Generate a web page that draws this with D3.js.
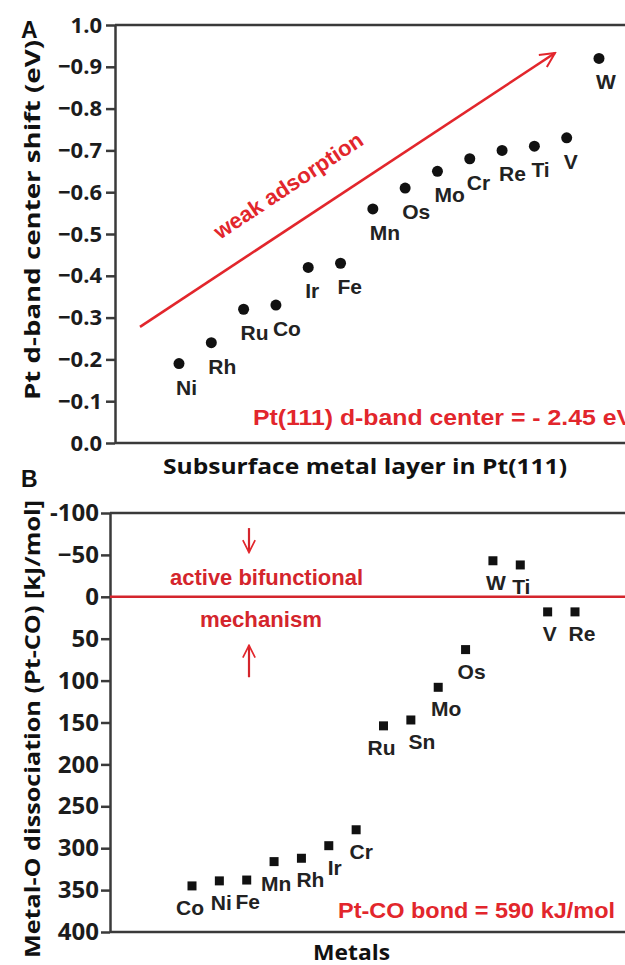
<!DOCTYPE html>
<html>
<head>
<meta charset="utf-8">
<script src="https://cdn.jsdelivr.net/npm/d3@7"></script>
<style>
  body { margin: 0; background: #fff; }
  svg { display: block; }
  .tick text { font-family: "Open Sans", sans-serif; font-weight: 700; fill: #1c1c1c; }
</style>
</head>
<body>
<svg id="chart" width="625" height="965"></svg>
<script>
// panel A - subsurface metal in Pt(111)
const metalsA = ['Ni', 'Rh', 'Ru', 'Co', 'Ir', 'Fe', 'Mn', 'Os', 'Mo', 'Cr', 'Re', 'Ti', 'V', 'W'];
const shiftA = [-0.19, -0.24, -0.32, -0.33, -0.42, -0.43, -0.56, -0.61, -0.65, -0.68, -0.70, -0.71, -0.73, -0.92];
const ticksA = [0, -0.1, -0.2, -0.3, -0.4, -0.5, -0.6, -0.7, -0.8, -0.9, -1.0];
const tickLabelsA = ['0.0', '\u22120.1', '\u22120.2', '\u22120.3', '\u22120.4', '\u22120.5', '\u22120.6', '\u22120.7', '\u22120.8', '\u22120.9', '1.0'];

// panel B - metal-O dissociation
const metalsB = ['Co', 'Ni', 'Fe', 'Mn', 'Rh', 'Ir', 'Cr', 'Ru', 'Sn', 'Mo', 'Os', 'W', 'Ti', 'V', 'Re'];
const dissocB = [345, 339, 338, 316, 312, 297, 278, 154, 147, 108, 63, -43, -38, 18, 18];
const ticksB = [-100, -50, 0, 50, 100, 150, 200, 250, 300, 350, 400];
const tickLabelsB = ['-100', '\u221250', '0', '50', '100', '150', '200', '250', '300', '350', '400'];

// label nudges (layout only) for panel B
const labelDxB = [-2, 2, 1, 2, 9, 6, 5, -2, 11, 8, 6, 3, 1, 2, 7];

const svg = d3.select('#chart');
const red = '#e2262c';
const axisCol = '#3a3a3a';
const W = 625;
const arial = 'Liberation Sans, Arial, sans-serif';
const open = 'Open Sans, sans-serif';

svg.append('defs').append('marker')
  .attr('id', 'vhead')
  .attr('viewBox', '0 0 10 10')
  .attr('refX', 9).attr('refY', 5)
  .attr('markerWidth', 7).attr('markerHeight', 7)
  .attr('markerUnits', 'strokeWidth')
  .attr('orient', 'auto')
  .append('path')
  .attr('d', 'M1,1 L9,5 L1,9')
  .attr('fill', 'none')
  .attr('stroke', red)
  .attr('stroke-width', 1.1);

function stretched(sel, len) {
  return sel.attr('textLength', len).attr('lengthAdjust', 'spacingAndGlyphs');
}

// ---------- panel A ----------
const axA = 115;
const yA = d3.scaleLinear().domain([0, -1.0]).range([443, 25]);
const xA = d3.scalePoint().domain(metalsA).range([179, 599]);

const gA = svg.append('g');

gA.append('g')
  .attr('transform', `translate(${axA},0)`)
  .call(d3.axisLeft(yA).tickValues(ticksA).tickFormat((d, i) => tickLabelsA[i]).tickSize(9).tickSizeOuter(0).tickPadding(4))
  .call(g => g.selectAll('.tick text').style('font-size', '22px'))
  .call(g => g.selectAll('line,path').attr('stroke', axisCol).attr('stroke-width', 2.5));

[0, -1.0].forEach(v => {
  gA.append('line')
    .attr('x1', axA).attr('x2', W)
    .attr('y1', yA(v)).attr('y2', yA(v))
    .attr('stroke', axisCol).attr('stroke-width', 2.5);
});

// weak adsorption arrow
gA.append('line')
  .attr('x1', 140).attr('y1', yA(-0.278))
  .attr('x2', 555).attr('y2', yA(-0.933))
  .attr('stroke', red).attr('stroke-width', 2.6)
  .attr('marker-end', 'url(#vhead)');

stretched(gA.append('text')
  .attr('transform', 'translate(220,240) rotate(-33.6)')
  .attr('font-family', arial)
  .attr('font-weight', 700).attr('font-size', 22)
  .attr('fill', red)
  .text('weak adsorption'), 174);

gA.selectAll('circle.pt')
  .data(metalsA)
  .join('circle')
  .attr('class', 'pt')
  .attr('cx', d => xA(d))
  .attr('cy', (d, i) => yA(shiftA[i]))
  .attr('r', 5.5)
  .attr('fill', '#111');

gA.selectAll('text.lab')
  .data(metalsA)
  .join('text')
  .attr('class', 'lab')
  .attr('x', d => xA(d) - 3)
  .attr('y', (d, i) => yA(shiftA[i]) + 31)
  .attr('font-family', arial)
  .attr('font-weight', 700).attr('font-size', 21)
  .attr('fill', '#222')
  .text(d => d);

stretched(gA.append('text')
  .attr('x', 253).attr('y', 425)
  .attr('font-family', arial)
  .attr('font-weight', 700).attr('font-size', 22)
  .attr('fill', red)
  .text('Pt(111) d-band center = - 2.45 eV'), 380);

stretched(gA.append('text')
  .attr('x', 163).attr('y', 474)
  .attr('font-family', open)
  .attr('font-weight', 700).attr('font-size', 22)
  .attr('fill', '#111')
  .text('Subsurface metal layer in Pt(111)'), 404);

stretched(gA.append('text')
  .attr('transform', 'translate(40,400) rotate(-90)')
  .attr('font-family', open)
  .attr('font-weight', 700).attr('font-size', 21)
  .attr('fill', '#111')
  .text('Pt d-band center shift (eV)'), 360);

gA.append('text')
  .attr('x', 21).attr('y', 38)
  .attr('font-family', arial)
  .attr('font-weight', 700).attr('font-size', 23)
  .attr('fill', '#111')
  .text('A');

// ---------- panel B ----------
const axB = 110;
const yB = d3.scaleLinear().domain([-100, 400]).range([513, 932]);
const xB = d3.scalePoint().domain(metalsB).range([192, 575]);

const gB = svg.append('g');

gB.append('g')
  .attr('transform', `translate(${axB},0)`)
  .call(d3.axisLeft(yB).tickValues(ticksB).tickFormat((d, i) => tickLabelsB[i]).tickSize(9).tickSizeOuter(0).tickPadding(2))
  .call(g => g.selectAll('.tick text').style('font-size', '24px'))
  .call(g => g.selectAll('line,path').attr('stroke', axisCol).attr('stroke-width', 2.5));

[-100, 400].forEach(v => {
  gB.append('line')
    .attr('x1', axB).attr('x2', W)
    .attr('y1', yB(v)).attr('y2', yB(v))
    .attr('stroke', axisCol).attr('stroke-width', 2.5);
});

gB.append('line')
  .attr('x1', axB).attr('x2', W)
  .attr('y1', yB(0)).attr('y2', yB(0))
  .attr('stroke', '#d4252c').attr('stroke-width', 2.5);

// bifunctional mechanism note
const note = gB.append('g')
  .attr('font-family', arial)
  .attr('font-weight', 700).attr('font-size', 22)
  .attr('fill', '#d4252c');
stretched(note.append('text').attr('x', 170).attr('y', yB(-14)).text('active bifunctional'), 193);
stretched(note.append('text').attr('x', 200).attr('y', yB(36)).text('mechanism'), 122);

gB.append('line')
  .attr('x1', 249).attr('x2', 249)
  .attr('y1', yB(-82)).attr('y2', yB(-53))
  .attr('stroke', '#d4252c').attr('stroke-width', 2.2)
  .attr('marker-end', 'url(#vhead)');
gB.append('line')
  .attr('x1', 249).attr('x2', 249)
  .attr('y1', yB(96)).attr('y2', yB(58))
  .attr('stroke', '#d4252c').attr('stroke-width', 2.2)
  .attr('marker-end', 'url(#vhead)');

gB.selectAll('rect.pt')
  .data(metalsB)
  .join('rect')
  .attr('class', 'pt')
  .attr('x', d => xB(d) - 4.5)
  .attr('y', (d, i) => yB(dissocB[i]) - 4.5)
  .attr('width', 9).attr('height', 9)
  .attr('fill', '#111');

gB.selectAll('text.lab')
  .data(metalsB)
  .join('text')
  .attr('class', 'lab')
  .attr('x', (d, i) => xB(d) + labelDxB[i])
  .attr('y', (d, i) => yB(dissocB[i]) + 29)
  .attr('text-anchor', 'middle')
  .attr('font-family', arial)
  .attr('font-weight', 700).attr('font-size', 21)
  .attr('fill', '#222')
  .text(d => d);

stretched(gB.append('text')
  .attr('x', 338).attr('y', 918)
  .attr('font-family', arial)
  .attr('font-weight', 700).attr('font-size', 22)
  .attr('fill', red)
  .text('Pt-CO bond = 590 kJ/mol'), 277);

stretched(gB.append('text')
  .attr('x', 313).attr('y', 960)
  .attr('font-family', open)
  .attr('font-weight', 700).attr('font-size', 22)
  .attr('fill', '#111')
  .text('Metals'), 77);

stretched(gB.append('text')
  .attr('transform', 'translate(40,958) rotate(-90)')
  .attr('font-family', open)
  .attr('font-weight', 700).attr('font-size', 21)
  .attr('fill', '#111')
  .text('Metal-O dissociation (Pt-CO) [kJ/mol]'), 458);

gB.append('text')
  .attr('x', 21).attr('y', 487)
  .attr('font-family', arial)
  .attr('font-weight', 700).attr('font-size', 23)
  .attr('fill', '#111')
  .text('B');
</script>
</body>
</html>
